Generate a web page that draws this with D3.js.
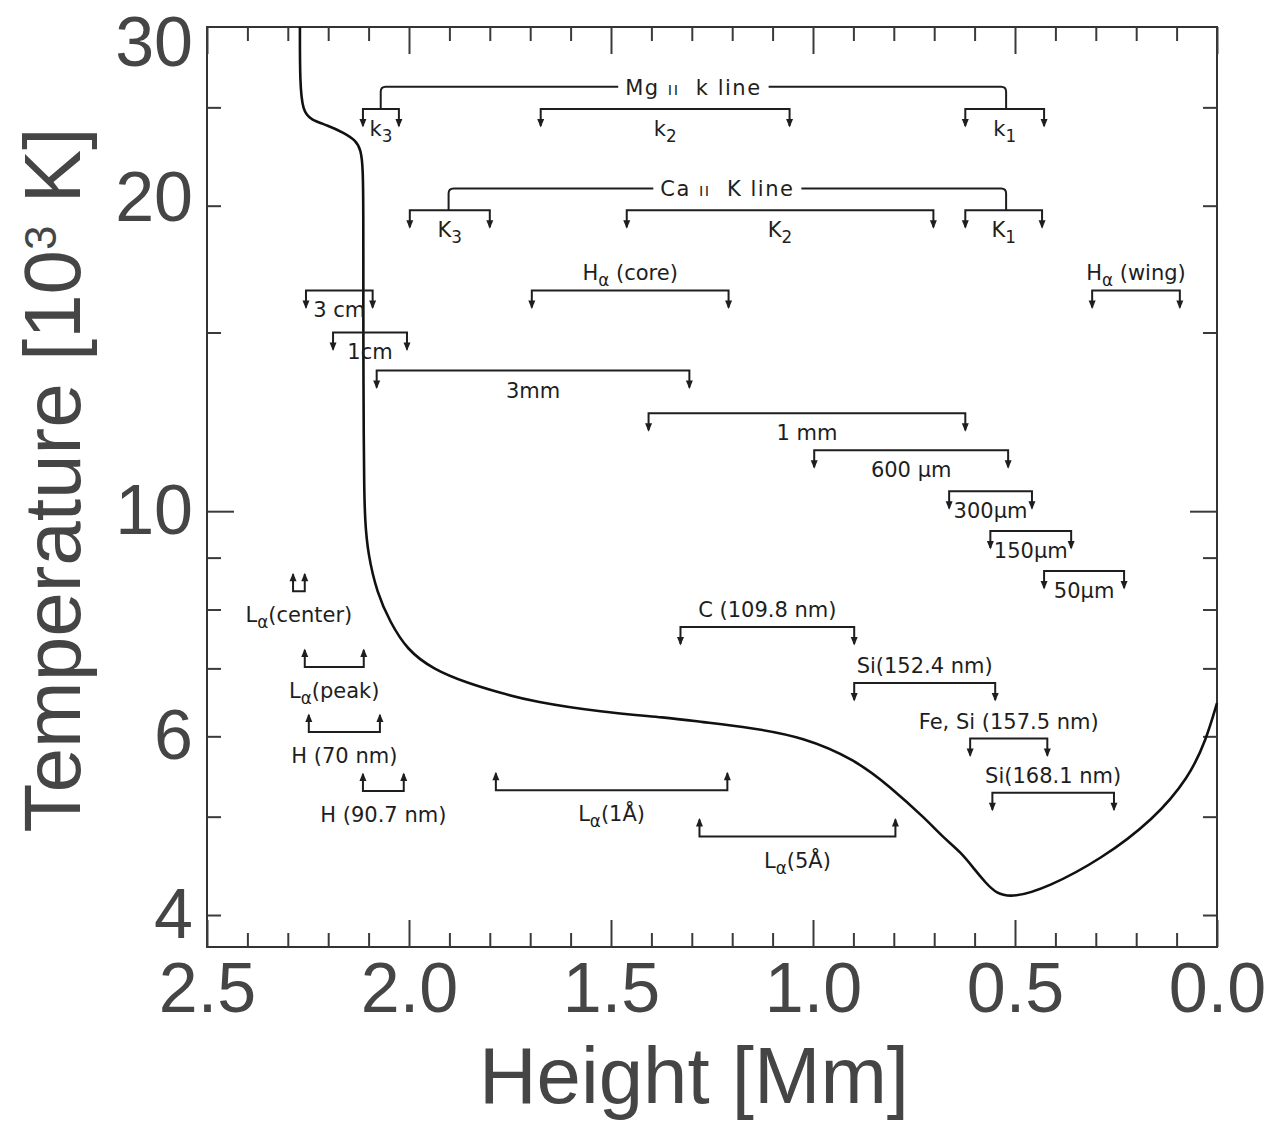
<!DOCTYPE html>
<html>
<head>
<meta charset="utf-8">
<script src="https://cdn.jsdelivr.net/npm/d3@7"></script>
<style>
  body { margin: 0; background: #fff; }
  svg { display: block; background: #fff; }
  .note { font-family: "DejaVu Sans", sans-serif; font-size: 21px; fill: #1e1e1e; }
  .axis-title { font-family: "Liberation Sans", Arial, sans-serif; font-size: 80px; fill: #454545; }
</style>
</head>
<body>
<svg id="chart" width="1275" height="1124"></svg>
<script>
/*** DATA ***/
//temperature profile (VAL-C)
const heightMm = [2.270, 2.270, 2.263, 2.243, 2.201, 2.161, 2.132, 2.119, 2.114, 2.113, 2.113, 2.113, 2.112,
  2.111, 2.109, 2.102, 2.079, 2.047, 2.005, 1.939, 1.855, 1.773, 1.691, 1.526, 1.360, 1.278, 1.155, 1.024,
  0.895, 0.809, 0.720, 0.678, 0.633, 0.599, 0.574, 0.547, 0.504, 0.418, 0.287, 0.156, 0.069, 0.027, 0.000];
const tempK = [30.0, 26.4, 24.8, 24.3, 24.0, 23.6, 23.2, 22.7, 21.8, 19.8, 16.6, 14.3, 11.7,
  10.6, 9.80, 9.09, 8.30, 7.78, 7.30, 6.98, 6.77, 6.62, 6.49, 6.34, 6.26, 6.20, 6.12, 5.99,
  5.69, 5.35, 4.97, 4.77, 4.61, 4.43, 4.31, 4.20, 4.16, 4.26, 4.54, 4.97, 5.47, 5.95, 6.47];

//formation ranges ('_' marks a subscript character)
const bracketLabel = ['k_3', 'k_2', 'k_1', 'K_3', 'K_2', 'K_1', 'H_α (core)', 'H_α (wing)',
  '3 cm', '1cm', '3mm', '1 mm', '600 μm', '300μm', '150μm', '50μm',
  'C (109.8 nm)', 'Si(152.4 nm)', 'Fe, Si (157.5 nm)', 'Si(168.1 nm)',
  'L_α(center)', 'L_α(peak)', 'H (70 nm)', 'H (90.7 nm)', 'L_α(1Å)', 'L_α(5Å)'];
const bracketFrom = [2.114, 1.674, 0.623, 1.998, 1.461, 0.623, 1.696, 0.309,
  2.255, 2.188, 2.080, 1.407, 0.997, 0.663, 0.561, 0.428,
  1.328, 0.898, 0.611, 0.556,
  2.287, 2.258, 2.248, 2.114, 1.785, 1.281];
const bracketTo = [2.025, 1.058, 0.428, 1.800, 0.702, 0.433, 1.209, 0.092,
  2.090, 2.005, 1.306, 0.623, 0.517, 0.458, 0.361, 0.230,
  0.898, 0.549, 0.420, 0.255,
  2.258, 2.112, 2.072, 2.013, 1.212, 0.796];
const bracketTemp = [24.9, 24.9, 24.9, 19.8, 19.8, 19.8, 16.5, 16.5,
  16.5, 15.0, 13.76, 12.49, 11.48, 10.46, 9.56, 8.73,
  7.69, 6.77, 5.97, 5.28,
  8.34, 7.02, 6.06, 5.30, 5.31, 4.78];
const bracketArrow = ['down', 'down', 'down', 'down', 'down', 'down', 'down', 'down',
  'down', 'down', 'down', 'down', 'down', 'down', 'down', 'down',
  'down', 'down', 'down', 'down',
  'up', 'up', 'up', 'up', 'up', 'up'];
const bracketText = ['inside', 'inside', 'inside', 'inside', 'inside', 'inside', 'above', 'above',
  'inside', 'inside', 'inside', 'inside', 'inside', 'inside', 'inside', 'inside',
  'above', 'above', 'above', 'above',
  'below', 'below', 'below', 'below', 'below', 'below'];

//line groups joining the k / K brackets
const groupElement = ['Mg', 'Ca'];
const groupLine = ['k line', 'K line'];
const groupFrom = [2.070, 1.902];
const groupTo = [0.522, 0.522];
const groupTemp = [26.2, 20.8];
const groupBase = [24.9, 19.8];

//ticks
const xTicksMajor = [2.5, 2.0, 1.5, 1.0, 0.5, 0.0];
const xTicksMinor = [0.1, 0.2, 0.3, 0.4, 0.6, 0.7, 0.8, 0.9, 1.1, 1.2, 1.3, 1.4,
  1.6, 1.7, 1.8, 1.9, 2.1, 2.2, 2.3, 2.4];
const yTicksMajor = [10];
const yTicksMinor = [4, 5, 6, 7, 8, 9, 15, 20, 25];
const yTickLabels = [4, 6, 10, 20, 30];


/*** CHART ***/
const svg = d3.select('#chart');
const plot = {left: 207, right: 1217, top: 27, bottom: 947};
const ink = '#1e1e1e';
const tickColor = '#3a3a3a';

const x = d3.scaleLinear().domain([2.5, 0]).range([plot.left, plot.right]);
const y = d3.scaleLog().domain([3.72, 30]).range([plot.bottom, plot.top]);

function styleTicks(g) {
  g.select('.domain').remove();
  g.selectAll('.tick line').attr('stroke', tickColor).attr('stroke-width', 2);
}

//frame
svg.append('rect')
  .attr('x', plot.left)
  .attr('y', plot.top)
  .attr('width', plot.right - plot.left)
  .attr('height', plot.bottom - plot.top)
  .attr('fill', 'none')
  .attr('stroke', '#333')
  .attr('stroke-width', 2);

//inward ticks on all four sides
svg.append('g').attr('transform', `translate(0,${plot.bottom})`)
  .call(d3.axisBottom(x).tickValues(xTicksMinor).tickSize(-14).tickFormat(''))
  .call(styleTicks);
svg.append('g').attr('transform', `translate(0,${plot.top})`)
  .call(d3.axisTop(x).tickValues(xTicksMinor).tickSize(-14).tickFormat(''))
  .call(styleTicks);
svg.append('g').attr('transform', `translate(0,${plot.top})`)
  .call(d3.axisTop(x).tickValues(xTicksMajor).tickSize(-27).tickFormat(''))
  .call(styleTicks);
svg.append('g').attr('transform', `translate(${plot.left},0)`)
  .call(d3.axisLeft(y).tickValues(yTicksMinor).tickSize(-14).tickFormat(''))
  .call(styleTicks);
svg.append('g').attr('transform', `translate(${plot.left},0)`)
  .call(d3.axisLeft(y).tickValues(yTicksMajor).tickSize(-27).tickFormat(''))
  .call(styleTicks);
svg.append('g').attr('transform', `translate(${plot.right},0)`)
  .call(d3.axisRight(y).tickValues(yTicksMinor).tickSize(-14).tickFormat(''))
  .call(styleTicks);
svg.append('g').attr('transform', `translate(${plot.right},0)`)
  .call(d3.axisRight(y).tickValues(yTicksMajor).tickSize(-27).tickFormat(''))
  .call(styleTicks);

//bottom axis with labels
const xAxis = svg.append('g').attr('transform', `translate(0,${plot.bottom})`)
  .call(d3.axisBottom(x).tickValues(xTicksMajor).tickSize(-27).tickPadding(15).tickFormat(d3.format('.1f')))
  .call(styleTicks);
xAxis.attr('font-size', 70).attr('font-family', '"Liberation Sans", Arial, sans-serif');
xAxis.selectAll('text').attr('fill', '#454545');

//left labels
const yAxis = svg.append('g').attr('transform', `translate(${plot.left},0)`)
  .call(d3.axisLeft(y).tickValues(yTickLabels).tickSize(0).tickPadding(14).tickFormat(d3.format('d')))
  .call(styleTicks);
yAxis.attr('font-size', 70).attr('font-family', '"Liberation Sans", Arial, sans-serif');
yAxis.selectAll('text').attr('fill', '#454545');
//top label sits inside the frame, 20 sits a bit high in the original
yAxis.selectAll('.tick').filter(d => d === 30).select('text').attr('dy', '0.55em');
yAxis.selectAll('.tick').filter(d => d === 20).select('text').attr('dy', '0.21em');

//axis titles
svg.append('text')
  .attr('class', 'axis-title')
  .attr('x', 694)
  .attr('y', 1103)
  .attr('text-anchor', 'middle')
  .attr('textLength', 430)
  .attr('lengthAdjust', 'spacingAndGlyphs')
  .text('Height [Mm]');

const yTitle = svg.append('text')
  .attr('class', 'axis-title')
  .attr('transform', 'translate(80,480) rotate(-90)')
  .attr('text-anchor', 'middle');
yTitle.append('tspan').text('Temperature [10');
yTitle.append('tspan').attr('font-size', '0.55em').attr('dy', '-0.55em').text('3');
yTitle.append('tspan').attr('dy', '0.3em').text(' K]');

//temperature curve
const line = d3.line()
  .x((d, i) => x(heightMm[i]))
  .y(d => y(d))
  .curve(d3.curveBasis);

svg.append('path')
  .datum(tempK)
  .attr('d', line)
  .attr('fill', 'none')
  .attr('stroke', '#111')
  .attr('stroke-width', 2.6);

//label with subscripts
function addLabel(sel, str) {
  const parts = str.split('_');
  if (parts[0]) sel.append('tspan').text(parts[0]);
  parts.slice(1).forEach(p => {
    sel.append('tspan').attr('font-size', '0.8em').attr('dy', 6).text(p[0]);
    if (p.length > 1) sel.append('tspan').attr('dy', -6).text(p.slice(1));
  });
}

//brackets
const legLength = 17;
const notes = svg.append('g').attr('class', 'notes');

bracketLabel.forEach((label, i) => {
  const x0 = x(bracketFrom[i]);
  const x1 = x(bracketTo[i]);
  const yb = y(bracketTemp[i]);
  const dir = bracketArrow[i] === 'down' ? 1 : -1;
  const yEnd = yb + dir * legLength;

  notes.append('path')
    .attr('d', `M${x0},${yEnd}L${x0},${yb}L${x1},${yb}L${x1},${yEnd}`)
    .attr('fill', 'none')
    .attr('stroke', ink)
    .attr('stroke-width', 2);

  [x0, x1].forEach(xa => {
    notes.append('path')
      .attr('d', `M${xa - 3.5},${yEnd - dir * 7}L${xa + 3.5},${yEnd - dir * 7}L${xa},${yEnd + dir * 1.5}Z`)
      .attr('fill', ink);
  });

  let ty;
  if (bracketText[i] === 'inside') ty = yb + 27;
  else if (bracketText[i] === 'above') ty = yb - 10;
  else ty = yb + 31;

  const t = notes.append('text')
    .attr('class', 'note')
    .attr('x', (x0 + x1) / 2)
    .attr('y', ty)
    .attr('text-anchor', 'middle');
  addLabel(t, label);
});

//Mg II and Ca II connectors
groupElement.forEach((el, i) => {
  const x0 = x(groupFrom[i]);
  const x1 = x(groupTo[i]);
  const yt = y(groupTemp[i]);
  const yb = y(groupBase[i]);
  const r = 5;

  notes.append('path')
    .attr('d', `M${x0},${yb}L${x0},${yt + r}Q${x0},${yt} ${x0 + r},${yt}L${x1 - r},${yt}Q${x1},${yt} ${x1},${yt + r}L${x1},${yb}`)
    .attr('fill', 'none')
    .attr('stroke', ink)
    .attr('stroke-width', 2);

  const bg = notes.append('rect').attr('fill', '#fff');
  const t = notes.append('text')
    .attr('class', 'note')
    .attr('x', (x0 + x1) / 2)
    .attr('y', yt + 8)
    .attr('text-anchor', 'middle')
    .attr('letter-spacing', 1.5);
  t.append('tspan').text(el + ' ');
  t.append('tspan').attr('font-size', '0.7em').text('II');
  t.append('tspan').text('  ' + groupLine[i]).style('white-space', 'pre');

  const box = t.node().getBBox();
  bg.attr('x', box.x - 7)
    .attr('y', box.y)
    .attr('width', box.width + 14)
    .attr('height', box.height);
});
</script>
</body>
</html>
